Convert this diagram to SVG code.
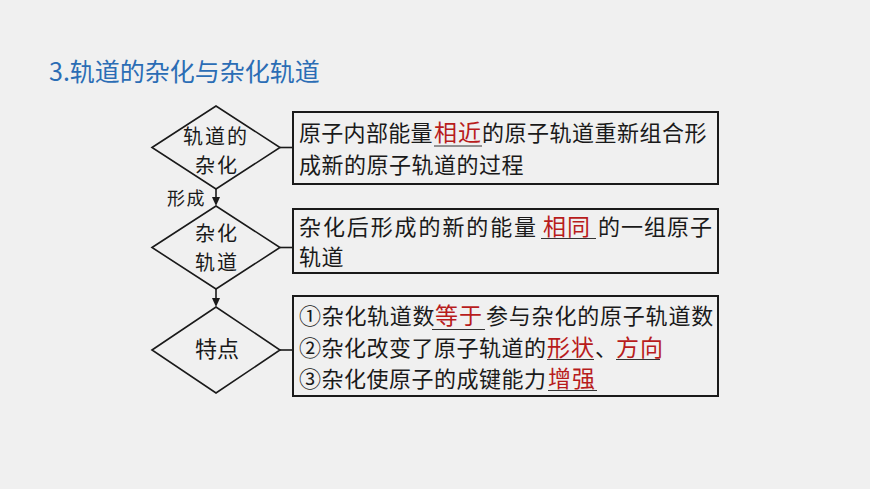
<svg xmlns="http://www.w3.org/2000/svg" width="870" height="489" viewBox="0 0 870 489">
<defs>
<style>
.bg{fill:#f0f0f0}
.title{font-family:"Noto Sans CJK SC","Noto Sans",sans-serif;font-size:25px;fill:#2b6db5}
.t{font-family:"Noto Sans CJK SC","Noto Sans",sans-serif;font-size:22px;fill:#1a1a1a;letter-spacing:0.5px}
.d{font-family:"Noto Sans CJK SC","Noto Sans",sans-serif;font-size:20px;fill:#1a1a1a;letter-spacing:2px}
.r{font-family:"Noto Sans CJK SC","Noto Sans",sans-serif;font-size:23px;fill:#b81c1c;letter-spacing:1px}
.lbl{font-family:"Noto Sans CJK SC","Noto Sans",sans-serif;font-size:18px;fill:#1a1a1a;letter-spacing:1.5px}
.dia{fill:none;stroke:#1a1a1a;stroke-width:1.6}
.box{fill:none;stroke:#1a1a1a;stroke-width:2}
.ln{stroke:#1a1a1a;stroke-width:1.6;fill:none}
.ah{fill:#1a1a1a}
.ul{stroke:#333;stroke-width:1.2}
</style>
</defs>
<rect class="bg" x="0" y="0" width="870" height="489"/>
<text class="title" x="49" y="81">3.轨道的杂化与杂化轨道</text>

<g id="connectors">
<line class="ln" x1="280" y1="147.5" x2="293" y2="147.5"/>
<line class="ln" x1="280" y1="247.5" x2="293" y2="247.5"/>
<line class="ln" x1="280" y1="350" x2="293" y2="350"/>
<line class="ln" x1="216" y1="189" x2="216" y2="198"/>
<path class="ah" d="M212,197 L220,197 L216,206 Z"/>
<line class="ln" x1="216" y1="289" x2="216" y2="299"/>
<path class="ah" d="M212,298 L220,298 L216,307 Z"/>
<text class="lbl" x="167" y="205">形成</text>
</g>

<g id="node-hybridization">
<polygon class="dia" points="152,147.5 216,106 280,147.5 216,189"/>
<text class="d"><tspan x="183" y="144">轨道的</tspan><tspan x="195" y="173">杂化</tspan></text>
</g>

<g id="node-hybrid-orbital">
<polygon class="dia" points="152,247.5 216,206 280,247.5 216,289"/>
<text class="d"><tspan x="195" y="241">杂化</tspan><tspan x="195" y="270">轨道</tspan></text>
</g>

<g id="node-features">
<polygon class="dia" points="152,350 216,307 280,350 216,393"/>
<text class="d" x="195" y="357" style="font-size:22px;letter-spacing:0">特点</text>
</g>

<g id="box-definition">
<rect class="box" x="293" y="112" width="425" height="72"/>
<text class="t" x="299" y="141" style="letter-spacing:0.3px">原子内部能量</text>
<text class="r" x="434" y="141">相近</text>
<line class="ul" x1="434" y1="146" x2="482" y2="146"/>
<text class="t" x="482" y="141">的原子轨道重新组合形</text>
<text class="t" x="299" y="173">成新的原子轨道的过程</text>
</g>

<g id="box-hybrid-orbital">
<rect class="box" x="293" y="209" width="425" height="64"/>
<text class="t" x="299" y="235" style="letter-spacing:1.9px">杂化后形成的新的能量</text>
<text class="r" x="543" y="235">相同</text>
<line class="ul" x1="541" y1="238.5" x2="596" y2="238.5"/>
<text class="t" x="598" y="235" style="letter-spacing:1px">的一组原子</text>
<text class="t" x="299" y="265">轨道</text>
</g>

<g id="box-features">
<rect class="box" x="293" y="296" width="425" height="100"/>
<text class="t" x="299" y="324" style="letter-spacing:0.7px">①杂化轨道数</text>
<text class="r" x="435" y="324">等于</text>
<line class="ul" x1="432" y1="329.5" x2="485" y2="329.5"/>
<text class="t" x="486" y="324" style="letter-spacing:0.8px">参与杂化的原子轨道数</text>
<text class="t" x="299" y="356">②杂化改变了原子轨道的</text>
<text class="r" x="547" y="356">形状</text>
<text class="t" x="595" y="356" style="letter-spacing:0">、</text>
<text class="r" x="616" y="356">方向</text>
<line class="ul" x1="547" y1="359.5" x2="594" y2="359.5"/>
<line class="ul" x1="616" y1="359.5" x2="660" y2="359.5"/>
<text class="t" x="299" y="387">③杂化使原子的成键能力</text>
<text class="r" x="548" y="387">增强</text>
<line class="ul" x1="548" y1="390.5" x2="597" y2="390.5"/>
</g>
</svg>
